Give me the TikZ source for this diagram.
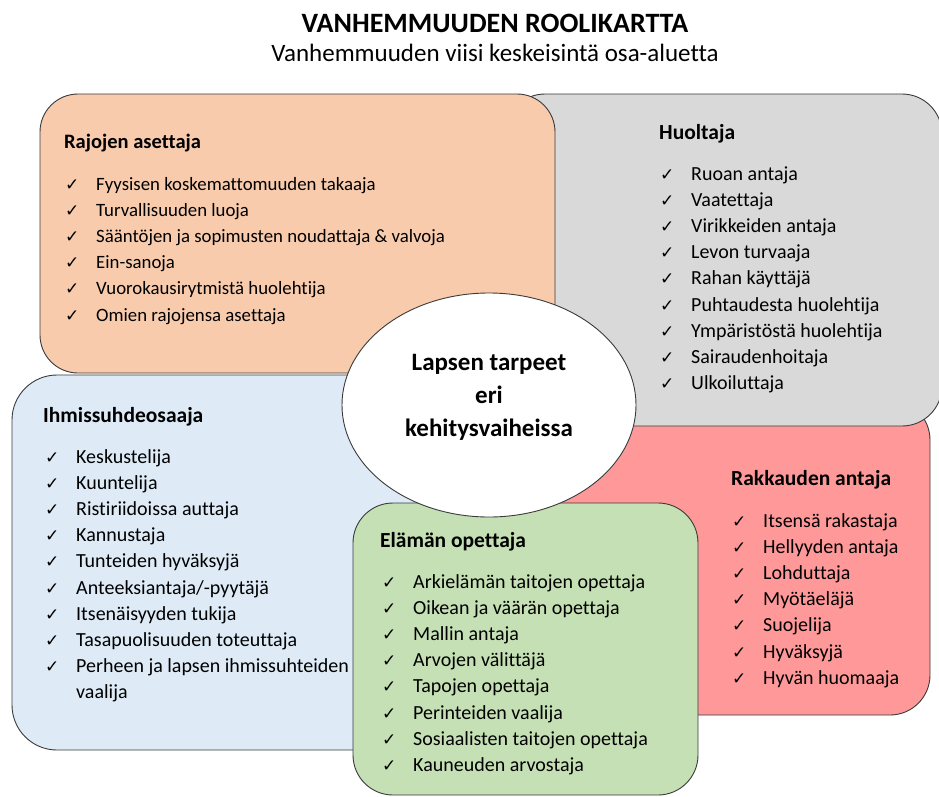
\documentclass[tikz,border=0pt]{standalone}
\usepackage{fontspec}
\setmainfont[Ligatures={NoCommon}]{Carlito}
\newfontfamily\symfont{DejaVu Sans}
\usetikzlibrary{positioning,shapes.geometric}
\definecolor{oranssi}{HTML}{F8CBAD}
\definecolor{harmaa}{HTML}{D9D9D9}
\definecolor{sininen}{HTML}{DEEBF7}
\definecolor{punainen}{HTML}{FF9999}
\definecolor{vihrea}{HTML}{C5E0B4}
\definecolor{reuna}{HTML}{3A3A3A}
\newcommand{\chk}{\makebox[31pt][l]{\symfont\fontsize{17}{17}\selectfont ✓}}
\tikzset{
  rolebox/.style={draw=reuna, line width=0.9pt, rounded corners=40pt, inner sep=0pt},
  rolehead/.style={anchor=base west, inner sep=0pt, font=\fontsize{#1}{22}\selectfont\bfseries},
  rolehead/.default=21.5,
  roleitem/.style={anchor=base west, inner sep=0pt, font=\fontsize{#1}{22}\selectfont},
  roleitem/.default=20,
}
\begin{document}
\begin{tikzpicture}[x=1pt, y=-1pt]
  \useasboundingbox (0,0) rectangle (939,796);
  % otsikko
  \node[inner sep=0pt, anchor=base, font=\fontsize{28}{32}\selectfont\bfseries] (title) at (495,32) {VANHEMMUUDEN ROOLIKARTTA};
  \node[inner sep=0pt, anchor=base, font=\fontsize{25}{28}\selectfont] (subtitle) at (495,61) {Vanhemmuuden viisi keskeisintä osa-aluetta};

  % laatikot
  \node[rolebox, fill=punainen, minimum width=370pt, minimum height=315pt] (rak) at (745,557.5) {};
  \node[rolebox, fill=harmaa, minimum width=437pt, minimum height=332pt] (huol) at (723.5,260) {};
  \node[rolebox, fill=oranssi, minimum width=515pt, minimum height=279pt, rounded corners=38pt] (raj) at (297.5,233.5) {};
  \node[rolebox, fill=sininen, minimum width=408pt, minimum height=375pt, rounded corners=45pt] (ihm) at (216,562.5) {};
  \node[rolebox, fill=vihrea, minimum width=345pt, minimum height=292pt] (ela) at (525.5,649) {};
  \node[draw=reuna, line width=0.9pt, fill=white, ellipse, minimum width=294pt, minimum height=224pt, inner sep=0pt] (lapsi) at (489,405) {};
  \node[align=center, inner sep=0pt, font=\fontsize{25}{33}\selectfont\bfseries] (lapsiteksti) at (489,397) {Lapsen tarpeet\\eri\\kehitysvaiheissa};

  % Rajojen asettaja
  \node[rolehead=20.5] (rajh) at (64,148) {Rajojen asettaja};
  \foreach \t [count=\i] in {Fyysisen koskemattomuuden takaaja, Turvallisuuden luoja,
      Sääntöjen ja sopimusten noudattaja \& valvoja, Ein-sanoja,
      Vuorokausirytmistä huolehtija, Omien rajojensa asettaja}
    \node[roleitem=18.8] (raj\i) at (65,{190+(\i-1)*26.2}) {\chk\t};

  % Huoltaja
  \node[rolehead] (huolh) at (659,139) {Huoltaja};
  \foreach \t [count=\i] in {Ruoan antaja, Vaatettaja, Virikkeiden antaja, Levon turvaaja,
      Rahan käyttäjä, Puhtaudesta huolehtija, Ympäristöstä huolehtija,
      Sairaudenhoitaja, Ulkoiluttaja}
    \node[roleitem] (huol\i) at (660,{180+(\i-1)*26.2}) {\chk\t};

  % Ihmissuhdeosaaja
  \node[rolehead] (ihmh) at (43,422) {Ihmissuhdeosaaja};
  \foreach \t [count=\i] in {Keskustelija, Kuuntelija, Ristiriidoissa auttaja, Kannustaja,
      Tunteiden hyväksyjä, Anteeksiantaja/-pyytäjä, Itsenäisyyden tukija,
      Tasapuolisuuden toteuttaja, Perheen ja lapsen ihmissuhteiden}
    \node[roleitem] (ihm\i) at (45,{463+(\i-1)*26.2}) {\chk\t};
  \node[roleitem, below=26.2pt of ihm9.base west, anchor=base west] (ihm10) {\hspace*{31pt}vaalija};

  % Rakkauden antaja
  \node[rolehead] (rakh) at (731,485) {Rakkauden antaja};
  \foreach \t [count=\i] in {Itsensä rakastaja, Hellyyden antaja, Lohduttaja, Myötäeläjä,
      Suojelija, Hyväksyjä, Hyvän huomaaja}
    \node[roleitem] (rak\i) at (732,{527+(\i-1)*26.2}) {\chk\t};

  % Elämän opettaja
  \node[rolehead] (elah) at (380,547) {Elämän opettaja};
  \foreach \t [count=\i] in {Arkielämän taitojen opettaja, Oikean ja väärän opettaja,
      Mallin antaja, Arvojen välittäjä, Tapojen opettaja, Perinteiden vaalija,
      Sosiaalisten taitojen opettaja, Kauneuden arvostaja}
    \node[roleitem] (ela\i) at (382,{588+(\i-1)*26.2}) {\chk\t};
\end{tikzpicture}
\end{document}
